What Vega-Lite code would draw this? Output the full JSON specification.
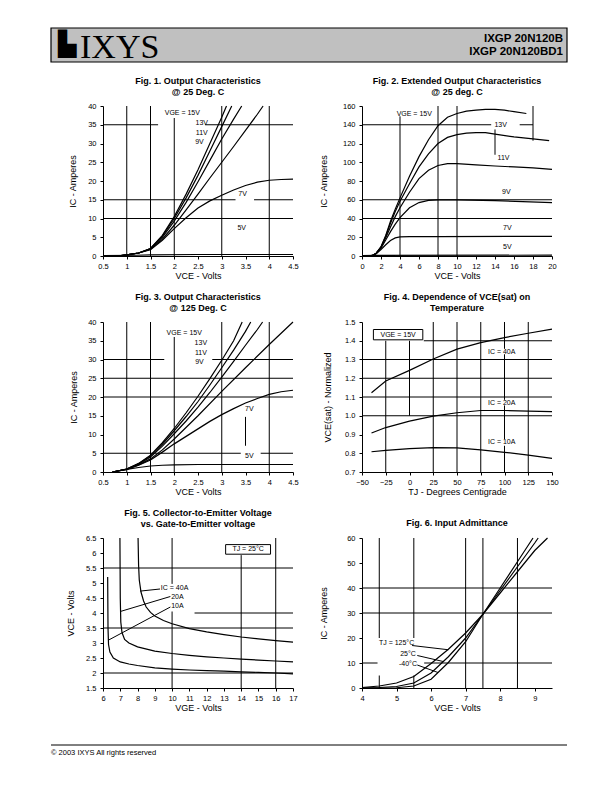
{
"$schema":"https://vega.github.io/schema/vega-lite/v6.json",
"background":"white",
"padding":{"left":50,"top":27,"right":0,"bottom":0},
"config":{
"font":"Liberation Sans",
"view":{"stroke":null},
"mark":{"color":"black"},
"line":{"strokeWidth":1.2,"color":"black"},
"rule":{"strokeWidth":1,"color":"black"},
"text":{"fontSize":7,"color":"black","fill":"black","font":"Liberation Sans"},
"axis":{"grid":false,"domainColor":"black","domainWidth":1,"tickColor":"black","tickSize":3,"tickWidth":1,"labelColor":"black","labelFontSize":7.5,"labelFont":"Liberation Sans","titleColor":"black","titleFont":"Liberation Sans","titleFontSize":9,"titleFontWeight":"normal","labelFlush":false,"labelOverlap":false},
"axisX":{"labelPadding":3,"titlePadding":3,"minExtent":12,"maxExtent":12},
"axisY":{"labelPadding":4,"minExtent":20,"maxExtent":20},
"title":{"font":"Liberation Sans","fontSize":9,"fontWeight":"bold","color":"black","anchor":"middle","lineHeight":11.5,"offset":5}
},
"spacing":11,
"vconcat":[
{"width":514,"height":34,
"data":{"values":[{"a":1}]},
"layer":[
{"mark":{"type":"rect","fill":"#c0c0c0","stroke":"black","strokeWidth":1.2},"encoding":{"x":{"value":-52},"x2":{"value":464},"y":{"value":0},"y2":{"value":34}}},
{"mark":{"type":"text","font":"DejaVu Sans","fontSize":24,"align":"left","baseline":"middle"},"encoding":{"text":{"value":"▙"},"x":{"value":-45},"y":{"value":17}}},
{"mark":{"type":"text","font":"Liberation Serif","fontSize":34,"align":"left","baseline":"alphabetic"},"encoding":{"text":{"value":"IXYS"},"x":{"value":-23},"y":{"value":30}}},
{"mark":{"type":"text","font":"Liberation Sans","fontSize":11.5,"fontWeight":"bold","align":"right","baseline":"alphabetic","lineHeight":13},"encoding":{"text":{"value":["IXGP 20N120B","IXGP 20N120BD1"]},"x":{"value":460},"y":{"value":14}}}
]},
{"concat":[
{"width":190,"height":150,
"title":{"text":["Fig. 1. Output Characteristics","@ 25 Deg. C"]},
"encoding":{
"x":{"field":"x","type":"quantitative","scale":{"domain":[0.5,4.5],"nice":false,"zero":false},"axis":{"values":[0.5,1,1.5,2,2.5,3,3.5,4,4.5],"format":"~g","title":"VCE - Volts"}},
"y":{"field":"y","type":"quantitative","scale":{"domain":[0,40],"nice":false,"zero":false},"axis":{"values":[0,5,10,15,20,25,30,35,40],"title":"IC - Amperes","titlePadding":6}}},
"layer":[
{"data":{"values":[{"x":1,"y":0,"y2":40},{"x":1.5,"y":0,"y2":40},{"x":2,"y":0,"y2":36.8},{"x":3,"y":0,"y2":40},{"x":4,"y":0,"y2":40}]},"mark":"rule","encoding":{"y2":{"field":"y2"}}},
{"data":{"values":[{"y":10,"x":0.5,"x2":4.5},{"y":15,"x":0.5,"x2":3.29},{"y":15,"x":3.68,"x2":4.5},{"y":35,"x":0.5,"x2":1.66},{"y":35,"x":2.65,"x2":4.5}]},"mark":"rule","encoding":{"x2":{"field":"x2"}}},
{"data":{"values":[
{"s":"15V","x":0.8,"y":0},{"s":"15V","x":1,"y":0.3},{"s":"15V","x":1.25,"y":0.8},{"s":"15V","x":1.5,"y":2},{"s":"15V","x":1.75,"y":5.5},{"s":"15V","x":2,"y":10.5},{"s":"15V","x":2.25,"y":16.5},{"s":"15V","x":2.5,"y":23},{"s":"15V","x":2.75,"y":30},{"s":"15V","x":3,"y":37},{"s":"15V","x":3.1,"y":40},
{"s":"13V","x":0.8,"y":0},{"s":"13V","x":1,"y":0.3},{"s":"13V","x":1.25,"y":0.8},{"s":"13V","x":1.5,"y":2},{"s":"13V","x":1.75,"y":5.3},{"s":"13V","x":2,"y":10},{"s":"13V","x":2.25,"y":15.5},{"s":"13V","x":2.5,"y":21.5},{"s":"13V","x":2.75,"y":28},{"s":"13V","x":3,"y":34.5},{"s":"13V","x":3.21,"y":40},
{"s":"11V","x":0.8,"y":0},{"s":"11V","x":1,"y":0.3},{"s":"11V","x":1.25,"y":0.8},{"s":"11V","x":1.5,"y":1.9},{"s":"11V","x":1.75,"y":5},{"s":"11V","x":2,"y":9.3},{"s":"11V","x":2.25,"y":14.3},{"s":"11V","x":2.5,"y":19.8},{"s":"11V","x":2.75,"y":25.5},{"s":"11V","x":3,"y":31.2},{"s":"11V","x":3.25,"y":36.5},{"s":"11V","x":3.42,"y":40},
{"s":"9V","x":0.8,"y":0},{"s":"9V","x":1,"y":0.3},{"s":"9V","x":1.25,"y":0.8},{"s":"9V","x":1.5,"y":1.8},{"s":"9V","x":1.75,"y":4.5},{"s":"9V","x":2,"y":8.2},{"s":"9V","x":2.25,"y":12.3},{"s":"9V","x":2.5,"y":16.5},{"s":"9V","x":2.75,"y":20.8},{"s":"9V","x":3,"y":25},{"s":"9V","x":3.25,"y":29.2},{"s":"9V","x":3.5,"y":33.5},{"s":"9V","x":3.75,"y":37.8},{"s":"9V","x":3.87,"y":40},
{"s":"7V","x":0.8,"y":0},{"s":"7V","x":1,"y":0.3},{"s":"7V","x":1.25,"y":0.8},{"s":"7V","x":1.5,"y":1.7},{"s":"7V","x":1.75,"y":4.2},{"s":"7V","x":2,"y":7.3},{"s":"7V","x":2.25,"y":10.2},{"s":"7V","x":2.5,"y":12.8},{"s":"7V","x":2.75,"y":14.7},{"s":"7V","x":3,"y":16.2},{"s":"7V","x":3.25,"y":17.6},{"s":"7V","x":3.5,"y":18.8},{"s":"7V","x":3.75,"y":19.7},{"s":"7V","x":4,"y":20.2},{"s":"7V","x":4.25,"y":20.4},{"s":"7V","x":4.5,"y":20.5},
{"s":"5V","x":0.5,"y":0.1},{"s":"5V","x":1.2,"y":0.2},{"s":"5V","x":1.5,"y":0.3},{"s":"5V","x":2.5,"y":0.4},{"s":"5V","x":4.5,"y":0.4}
]},"mark":"line","encoding":{"detail":{"field":"s"}}},
{"data":{"values":[{"t":"VGE = 15V","x":2.17,"y":38.2},{"t":"13V","x":2.58,"y":35.6},{"t":"11V","x":2.58,"y":32.9},{"t":"9V","x":2.53,"y":30.5},{"t":"7V","x":3.44,"y":16.6},{"t":"5V","x":3.42,"y":7.6}]},"mark":"text","encoding":{"text":{"field":"t"}}}
]},
{"width":190,"height":150,
"title":{"text":["Fig. 2. Extended Output Characteristics","@ 25 deg. C"]},
"encoding":{
"x":{"field":"x","type":"quantitative","scale":{"domain":[0,20],"nice":false,"zero":false},"axis":{"values":[0,2,4,6,8,10,12,14,16,18,20],"title":"VCE - Volts"}},
"y":{"field":"y","type":"quantitative","scale":{"domain":[0,160],"nice":false,"zero":false},"axis":{"values":[0,20,40,60,80,100,120,140,160],"title":"IC - Amperes","titlePadding":14}}},
"layer":[
{"data":{"values":[{"x":8,"y":0,"y2":160},{"x":10,"y":0,"y2":160},{"x":4,"y":0,"y2":149},{"x":14,"y":108,"y2":135},{"x":18,"y":123,"y2":160}]},"mark":"rule","encoding":{"y2":{"field":"y2"}}},
{"data":{"values":[{"y":40,"x":0,"x2":20},{"y":60,"x":0,"x2":20},{"y":140,"x":0,"x2":13.6},{"y":140,"x":16.6,"x2":18}]},"mark":"rule","encoding":{"x2":{"field":"x2"}}},
{"data":{"values":[
{"s":"15V","x":0.8,"y":0},{"s":"15V","x":1.2,"y":1},{"s":"15V","x":1.5,"y":3},{"s":"15V","x":2,"y":10},{"s":"15V","x":2.5,"y":22},{"s":"15V","x":3,"y":37},{"s":"15V","x":3.5,"y":50},{"s":"15V","x":4,"y":62},{"s":"15V","x":5,"y":85},{"s":"15V","x":6,"y":106},{"s":"15V","x":7,"y":124},{"s":"15V","x":8,"y":139},{"s":"15V","x":9,"y":148},{"s":"15V","x":10,"y":152},{"s":"15V","x":11,"y":154.5},{"s":"15V","x":12,"y":155.5},{"s":"15V","x":13,"y":156.5},{"s":"15V","x":14,"y":156.5},{"s":"15V","x":15,"y":155.5},{"s":"15V","x":16,"y":154},{"s":"15V","x":17.3,"y":152},
{"s":"13V","x":0.8,"y":0},{"s":"13V","x":1.2,"y":1},{"s":"13V","x":1.5,"y":3},{"s":"13V","x":2,"y":9.5},{"s":"13V","x":2.5,"y":21},{"s":"13V","x":3,"y":35},{"s":"13V","x":3.5,"y":47.5},{"s":"13V","x":4,"y":58.5},{"s":"13V","x":5,"y":77},{"s":"13V","x":6,"y":95},{"s":"13V","x":7,"y":109},{"s":"13V","x":8,"y":120},{"s":"13V","x":9,"y":126.5},{"s":"13V","x":10,"y":129.5},{"s":"13V","x":11,"y":131},{"s":"13V","x":12,"y":131.5},{"s":"13V","x":13,"y":131.5},{"s":"13V","x":14,"y":130},{"s":"13V","x":16,"y":127},{"s":"13V","x":18,"y":125},{"s":"13V","x":19.7,"y":123},
{"s":"11V","x":0.8,"y":0},{"s":"11V","x":1.2,"y":1},{"s":"11V","x":1.5,"y":3},{"s":"11V","x":2,"y":9},{"s":"11V","x":2.5,"y":19.5},{"s":"11V","x":3,"y":31},{"s":"11V","x":3.5,"y":42},{"s":"11V","x":4,"y":51.5},{"s":"11V","x":5,"y":68},{"s":"11V","x":6,"y":82.5},{"s":"11V","x":7,"y":91.5},{"s":"11V","x":8,"y":96.5},{"s":"11V","x":9,"y":98.5},{"s":"11V","x":10,"y":98.5},{"s":"11V","x":12,"y":97.3},{"s":"11V","x":14,"y":96},{"s":"11V","x":16,"y":95},{"s":"11V","x":18,"y":94},{"s":"11V","x":20,"y":92.5},
{"s":"9V","x":0.8,"y":0},{"s":"9V","x":1.2,"y":1},{"s":"9V","x":1.5,"y":3},{"s":"9V","x":2,"y":8.5},{"s":"9V","x":2.5,"y":17},{"s":"9V","x":3,"y":26},{"s":"9V","x":3.5,"y":34},{"s":"9V","x":4,"y":41},{"s":"9V","x":5,"y":51.5},{"s":"9V","x":6,"y":57},{"s":"9V","x":7,"y":59.3},{"s":"9V","x":8,"y":59.8},{"s":"9V","x":10,"y":59.8},{"s":"9V","x":14,"y":59},{"s":"9V","x":20,"y":57},
{"s":"7V","x":0.8,"y":0},{"s":"7V","x":1.2,"y":1},{"s":"7V","x":1.5,"y":2.5},{"s":"7V","x":2,"y":7},{"s":"7V","x":2.5,"y":12},{"s":"7V","x":3,"y":16.5},{"s":"7V","x":3.5,"y":19.3},{"s":"7V","x":4,"y":20.3},{"s":"7V","x":5,"y":20.6},{"s":"7V","x":8,"y":20.6},{"s":"7V","x":20,"y":21},
{"s":"5V","x":0,"y":0.3},{"s":"5V","x":1.5,"y":0.6},{"s":"5V","x":20,"y":0.9}
]},"mark":"line","encoding":{"detail":{"field":"s"}}},
{"data":{"values":[{"t":"VGE = 15V","x":5.5,"y":151.8},{"t":"13V","x":14.6,"y":139.5},{"t":"11V","x":14.9,"y":105},{"t":"9V","x":15.2,"y":68.6},{"t":"7V","x":15.3,"y":29.5},{"t":"5V","x":15.3,"y":9.6}]},"mark":"text","encoding":{"text":{"field":"t"}}}
]},
{"width":190,"height":150,
"title":{"text":["Fig. 3. Output Characteristics","@ 125 Deg. C"]},
"encoding":{
"x":{"field":"x","type":"quantitative","scale":{"domain":[0.5,4.5],"nice":false,"zero":false},"axis":{"values":[0.5,1,1.5,2,2.5,3,3.5,4,4.5],"format":"~g","title":"VCE - Volts"}},
"y":{"field":"y","type":"quantitative","scale":{"domain":[0,40],"nice":false,"zero":false},"axis":{"values":[0,5,10,15,20,25,30,35,40],"title":"IC - Amperes","titlePadding":5}}},
"layer":[
{"data":{"values":[{"x":1,"y":0,"y2":40},{"x":1.5,"y":0,"y2":40},{"x":2,"y":0,"y2":36},{"x":3,"y":0,"y2":40},{"x":4,"y":0,"y2":40},{"x":3.5,"y":7,"y2":14.7}]},"mark":"rule","encoding":{"y2":{"field":"y2"}}},
{"data":{"values":[{"y":20,"x":0.5,"x2":4.5},{"y":25,"x":0.5,"x2":4.5},{"y":30,"x":0.5,"x2":1.79},{"y":30,"x":2.8,"x2":4.5},{"y":5,"x":0.5,"x2":3.4},{"y":5,"x":3.82,"x2":4.5}]},"mark":"rule","encoding":{"x2":{"field":"x2"}}},
{"data":{"values":[
{"s":"15V","x":0.7,"y":0},{"s":"15V","x":1,"y":0.8},{"s":"15V","x":1.25,"y":2.3},{"s":"15V","x":1.5,"y":4.5},{"s":"15V","x":1.75,"y":7.8},{"s":"15V","x":2,"y":11.6},{"s":"15V","x":2.25,"y":15.8},{"s":"15V","x":2.5,"y":20.2},{"s":"15V","x":2.75,"y":24.9},{"s":"15V","x":3,"y":29.8},{"s":"15V","x":3.25,"y":35},{"s":"15V","x":3.43,"y":40},
{"s":"13V","x":0.7,"y":0},{"s":"13V","x":1,"y":0.8},{"s":"13V","x":1.25,"y":2.2},{"s":"13V","x":1.5,"y":4.3},{"s":"13V","x":1.75,"y":7.4},{"s":"13V","x":2,"y":11},{"s":"13V","x":2.25,"y":14.8},{"s":"13V","x":2.5,"y":18.8},{"s":"13V","x":2.75,"y":23.2},{"s":"13V","x":3,"y":27.8},{"s":"13V","x":3.25,"y":32.5},{"s":"13V","x":3.5,"y":37.5},{"s":"13V","x":3.61,"y":40},
{"s":"11V","x":0.7,"y":0},{"s":"11V","x":1,"y":0.8},{"s":"11V","x":1.25,"y":2.1},{"s":"11V","x":1.5,"y":4},{"s":"11V","x":1.75,"y":6.9},{"s":"11V","x":2,"y":10.2},{"s":"11V","x":2.25,"y":13.6},{"s":"11V","x":2.5,"y":17.3},{"s":"11V","x":2.75,"y":21.2},{"s":"11V","x":3,"y":25.3},{"s":"11V","x":3.25,"y":29.5},{"s":"11V","x":3.5,"y":33.8},{"s":"11V","x":3.75,"y":38},{"s":"11V","x":3.86,"y":40},
{"s":"9V","x":0.7,"y":0},{"s":"9V","x":1,"y":0.7},{"s":"9V","x":1.25,"y":1.9},{"s":"9V","x":1.5,"y":3.5},{"s":"9V","x":1.75,"y":5.9},{"s":"9V","x":2,"y":8.8},{"s":"9V","x":2.5,"y":15},{"s":"9V","x":3,"y":21.5},{"s":"9V","x":3.5,"y":27.8},{"s":"9V","x":4,"y":34},{"s":"9V","x":4.5,"y":40},
{"s":"7V","x":0.7,"y":0},{"s":"7V","x":1,"y":0.7},{"s":"7V","x":1.25,"y":1.8},{"s":"7V","x":1.5,"y":3.2},{"s":"7V","x":1.75,"y":5.3},{"s":"7V","x":2,"y":7.5},{"s":"7V","x":2.25,"y":9.5},{"s":"7V","x":2.5,"y":11.5},{"s":"7V","x":2.75,"y":13.5},{"s":"7V","x":3,"y":15.3},{"s":"7V","x":3.25,"y":16.9},{"s":"7V","x":3.5,"y":18.4},{"s":"7V","x":3.75,"y":19.6},{"s":"7V","x":4,"y":20.7},{"s":"7V","x":4.25,"y":21.4},{"s":"7V","x":4.5,"y":21.8},
{"s":"5V","x":0.7,"y":0},{"s":"5V","x":1,"y":0.7},{"s":"5V","x":1.25,"y":1.2},{"s":"5V","x":1.5,"y":1.6},{"s":"5V","x":1.75,"y":1.8},{"s":"5V","x":2,"y":1.9},{"s":"5V","x":2.5,"y":2},{"s":"5V","x":3,"y":2},{"s":"5V","x":4.5,"y":2}
]},"mark":"line","encoding":{"detail":{"field":"s"}}},
{"data":{"values":[{"t":"VGE = 15V","x":2.21,"y":37.2},{"t":"13V","x":2.56,"y":34.4},{"t":"11V","x":2.56,"y":31.8},{"t":"9V","x":2.53,"y":29.3},{"t":"7V","x":3.58,"y":16.9},{"t":"5V","x":3.58,"y":4.4}]},"mark":"text","encoding":{"text":{"field":"t"}}}
]},
{"width":190,"height":150,
"title":{"text":["Fig. 4. Dependence of VCE(sat) on","Temperature"]},
"encoding":{
"x":{"field":"x","type":"quantitative","scale":{"domain":[-50,150],"nice":false,"zero":false},"axis":{"values":[-50,-25,0,25,50,75,100,125,150],"title":"TJ - Degrees Centigrade"}},
"y":{"field":"y","type":"quantitative","scale":{"domain":[0.7,1.5],"nice":false,"zero":false},"axis":{"values":[0.7,0.8,0.9,1.0,1.1,1.2,1.3,1.4,1.5],"format":".1f","title":"VCE(sat) - Normalized","titlePadding":10}}},
"layer":[
{"data":{"values":[{"x":25,"y":0.7,"y2":1.5},{"x":50,"y":0.7,"y2":1.5},{"x":75,"y":0.7,"y2":1.5},{"x":100,"y":0.7,"y2":0.84},{"x":100,"y":0.875,"y2":1.055},{"x":100,"y":1.085,"y2":1.328},{"x":100,"y":1.357,"y2":1.5},{"x":125,"y":0.7,"y2":1.5},{"x":-25,"y":0.7,"y2":1.4},{"x":0,"y":1.0,"y2":1.4}]},"mark":"rule","encoding":{"y2":{"field":"y2"}}},
{"data":{"values":[{"y":1.0,"x":-50,"x2":150},{"y":1.1,"x":-50,"x2":150},{"y":1.2,"x":-50,"x2":150},{"y":1.3,"x":-50,"x2":150},{"y":1.4,"x":15,"x2":150}]},"mark":"rule","encoding":{"x2":{"field":"x2"}}},
{"data":{"values":[{"x":-38,"x2":14,"y":1.405,"y2":1.46}]},"mark":{"type":"rect","fill":"white","stroke":"black","strokeWidth":1},"encoding":{"x2":{"field":"x2"},"y2":{"field":"y2"}}},
{"data":{"values":[
{"s":"40A","x":-40,"y":1.123},{"s":"40A","x":-25,"y":1.185},{"s":"40A","x":0,"y":1.242},{"s":"40A","x":25,"y":1.303},{"s":"40A","x":50,"y":1.355},{"s":"40A","x":75,"y":1.39},{"s":"40A","x":100,"y":1.417},{"s":"40A","x":125,"y":1.44},{"s":"40A","x":150,"y":1.462},
{"s":"20A","x":-40,"y":0.908},{"s":"20A","x":-25,"y":0.937},{"s":"20A","x":0,"y":0.971},{"s":"20A","x":25,"y":0.998},{"s":"20A","x":50,"y":1.016},{"s":"20A","x":75,"y":1.028},{"s":"20A","x":100,"y":1.028},{"s":"20A","x":125,"y":1.025},{"s":"20A","x":150,"y":1.022},
{"s":"10A","x":-40,"y":0.808},{"s":"10A","x":-25,"y":0.815},{"s":"10A","x":0,"y":0.825},{"s":"10A","x":25,"y":0.83},{"s":"10A","x":50,"y":0.829},{"s":"10A","x":75,"y":0.818},{"s":"10A","x":100,"y":0.805},{"s":"10A","x":125,"y":0.79},{"s":"10A","x":150,"y":0.773}
]},"mark":"line","encoding":{"detail":{"field":"s"}}},
{"data":{"values":[{"t":"VGE = 15V","x":-12,"y":1.432},{"t":"IC = 40A","x":97,"y":1.342},{"t":"IC = 20A","x":97,"y":1.07},{"t":"IC = 10A","x":97,"y":0.858}]},"mark":"text","encoding":{"text":{"field":"t"}}}
]},
{"width":190,"height":150,
"title":{"text":["Fig. 5. Collector-to-Emitter Voltage","vs. Gate-to-Emitter voltage"]},
"encoding":{
"x":{"field":"x","type":"quantitative","scale":{"domain":[6,17],"nice":false,"zero":false},"axis":{"values":[6,7,8,9,10,11,12,13,14,15,16,17],"title":"VGE - Volts"}},
"y":{"field":"y","type":"quantitative","scale":{"domain":[1.5,6.5],"nice":false,"zero":false},"axis":{"values":[1.5,2,2.5,3,3.5,4,4.5,5,5.5,6,6.5],"format":"~g","title":"VCE - Volts","titlePadding":8}}},
"layer":[
{"data":{"values":[{"x":10,"y":1.5,"y2":4.05},{"x":10,"y":4.97,"y2":6.5},{"x":16,"y":1.5,"y2":6.5},{"x":14,"y":1.5,"y2":5.93}]},"mark":"rule","encoding":{"y2":{"field":"y2"}}},
{"data":{"values":[{"y":2,"x":6,"x2":17,"y2":2},{"y":3.5,"x":6,"x2":17,"y2":3.5},{"y":5.5,"x":6,"x2":17,"y2":5.5},{"y":4,"x":11.3,"x2":17,"y2":4},{"x":9.3,"y":4.8,"x2":8.15,"y2":4.73},{"x":9.9,"y":4.55,"x2":7.0,"y2":4.05},{"x":9.9,"y":4.2,"x2":6.33,"y2":3.1}]},"mark":"rule","encoding":{"x2":{"field":"x2"},"y2":{"field":"y2"}}},
{"data":{"values":[{"x":13.1,"x2":15.7,"y":5.96,"y2":6.28}]},"mark":{"type":"rect","fill":"white","stroke":"black","strokeWidth":1},"encoding":{"x2":{"field":"x2"},"y2":{"field":"y2"}}},
{"data":{"values":[
{"s":"40A","x":8.03,"y":6.5},{"s":"40A","x":8.06,"y":5.6},{"s":"40A","x":8.1,"y":5.1},{"s":"40A","x":8.2,"y":4.7},{"s":"40A","x":8.35,"y":4.4},{"s":"40A","x":8.5,"y":4.2},{"s":"40A","x":8.75,"y":4.02},{"s":"40A","x":9,"y":3.9},{"s":"40A","x":9.5,"y":3.75},{"s":"40A","x":10,"y":3.64},{"s":"40A","x":11,"y":3.48},{"s":"40A","x":12,"y":3.37},{"s":"40A","x":13,"y":3.28},{"s":"40A","x":14,"y":3.2},{"s":"40A","x":15,"y":3.14},{"s":"40A","x":16,"y":3.08},{"s":"40A","x":17,"y":3.03},
{"s":"20A","x":6.98,"y":6.5},{"s":"20A","x":7,"y":4.5},{"s":"20A","x":7.03,"y":3.7},{"s":"20A","x":7.1,"y":3.35},{"s":"20A","x":7.25,"y":3.12},{"s":"20A","x":7.5,"y":3},{"s":"20A","x":8,"y":2.87},{"s":"20A","x":9,"y":2.73},{"s":"20A","x":10,"y":2.65},{"s":"20A","x":11,"y":2.59},{"s":"20A","x":12,"y":2.54},{"s":"20A","x":13,"y":2.5},{"s":"20A","x":14,"y":2.46},{"s":"20A","x":15,"y":2.43},{"s":"20A","x":16,"y":2.4},{"s":"20A","x":17,"y":2.37},
{"s":"10A","x":6.27,"y":5.2},{"s":"10A","x":6.29,"y":3.5},{"s":"10A","x":6.32,"y":2.95},{"s":"10A","x":6.4,"y":2.7},{"s":"10A","x":6.6,"y":2.5},{"s":"10A","x":7,"y":2.37},{"s":"10A","x":7.5,"y":2.3},{"s":"10A","x":8,"y":2.25},{"s":"10A","x":9,"y":2.17},{"s":"10A","x":10,"y":2.13},{"s":"10A","x":11,"y":2.1},{"s":"10A","x":12,"y":2.08},{"s":"10A","x":13,"y":2.06},{"s":"10A","x":14,"y":2.04},{"s":"10A","x":15,"y":2.02},{"s":"10A","x":16,"y":2},{"s":"10A","x":17,"y":1.97}
]},"mark":"line","encoding":{"detail":{"field":"s"}}},
{"data":{"values":[{"t":"TJ = 25°C","x":14.4,"y":6.12}]},"mark":"text","encoding":{"text":{"field":"t"}}},
{"data":{"values":[{"t":"IC = 40A","x":9.35,"y":4.85},{"t":"20A","x":9.95,"y":4.55},{"t":"10A","x":9.95,"y":4.22}]},"mark":{"type":"text","align":"left"},"encoding":{"text":{"field":"t"}}}
]},
{"width":190,"height":150,
"title":{"text":"Fig. 6. Input Admittance","offset":6},
"encoding":{
"x":{"field":"x","type":"quantitative","scale":{"domain":[4,9.5],"nice":false,"zero":false},"axis":{"values":[4,5,6,7,8,9],"title":"VGE - Volts"}},
"y":{"field":"y","type":"quantitative","scale":{"domain":[0,60],"nice":false,"zero":false},"axis":{"values":[0,10,20,30,40,50,60],"title":"IC - Amperes","titlePadding":14}}},
"layer":[
{"data":{"values":[{"x":7,"y":0,"y2":60},{"x":7.5,"y":0,"y2":60},{"x":8.5,"y":0,"y2":60},{"x":4.5,"y":20,"y2":60},{"x":4.5,"y":0,"y2":5},{"x":5.5,"y":20,"y2":60},{"x":5.5,"y":0,"y2":5}]},"mark":"rule","encoding":{"y2":{"field":"y2"}}},
{"data":{"values":[{"y":30,"x":4,"x2":9.5,"y2":30},{"y":40,"x":4,"x2":9.5,"y2":40},{"y":10,"x":4,"x2":4.45,"y2":10},{"y":10,"x":5.8,"x2":9.5,"y2":10},{"x":5.45,"y":17,"x2":6.5,"y2":15.3},{"x":5.6,"y":13,"x2":6.35,"y2":10.6},{"x":5.6,"y":9.2,"x2":6.2,"y2":6.2}]},"mark":"rule","encoding":{"x2":{"field":"x2"},"y2":{"field":"y2"}}},
{"data":{"values":[
{"s":"125","x":4,"y":0.2},{"s":"125","x":4.5,"y":0.8},{"s":"125","x":5,"y":2},{"s":"125","x":5.5,"y":4.6},{"s":"125","x":6,"y":9.8},{"s":"125","x":6.5,"y":15.5},{"s":"125","x":7,"y":22},{"s":"125","x":7.5,"y":29.5},{"s":"125","x":8,"y":38},{"s":"125","x":8.5,"y":46.5},{"s":"125","x":9,"y":55},{"s":"125","x":9.37,"y":60},
{"s":"25","x":4,"y":0},{"s":"25","x":4.5,"y":0.2},{"s":"25","x":5,"y":0.6},{"s":"25","x":5.5,"y":2},{"s":"25","x":6,"y":6},{"s":"25","x":6.5,"y":12.5},{"s":"25","x":7,"y":20},{"s":"25","x":7.5,"y":29.5},{"s":"25","x":8,"y":39},{"s":"25","x":8.5,"y":48.5},{"s":"25","x":9,"y":58},{"s":"25","x":9.1,"y":60},
{"s":"-40","x":4,"y":0},{"s":"-40","x":5,"y":0.1},{"s":"-40","x":5.5,"y":0.8},{"s":"-40","x":6,"y":3.5},{"s":"-40","x":6.5,"y":10.2},{"s":"-40","x":7,"y":18.5},{"s":"-40","x":7.5,"y":29.5},{"s":"-40","x":8,"y":40},{"s":"-40","x":8.5,"y":50.5},{"s":"-40","x":8.95,"y":60}
]},"mark":"line","encoding":{"detail":{"field":"s"}}},
{"data":{"values":[{"t":"TJ = 125°C","x":5.0,"y":18.2},{"t":"25°C","x":5.33,"y":13.5},{"t":"-40°C","x":5.33,"y":9.8}]},"mark":"text","encoding":{"text":{"field":"t"}}}
]}
],"columns":2,"spacing":{"row":66,"column":69},"bounds":"flush"},
{"width":514,"height":34,
"data":{"values":[{"a":1}]},
"layer":[
{"mark":{"type":"rule","color":"black","strokeWidth":1},"encoding":{"x":{"value":-52},"x2":{"value":464},"y":{"value":22},"y2":{"value":22}}},
{"mark":{"type":"text","fontSize":7.5,"align":"left","baseline":"middle"},"encoding":{"text":{"value":"© 2003 IXYS All rights reserved"},"x":{"value":-52},"y":{"value":30}}}
]}
]
}
